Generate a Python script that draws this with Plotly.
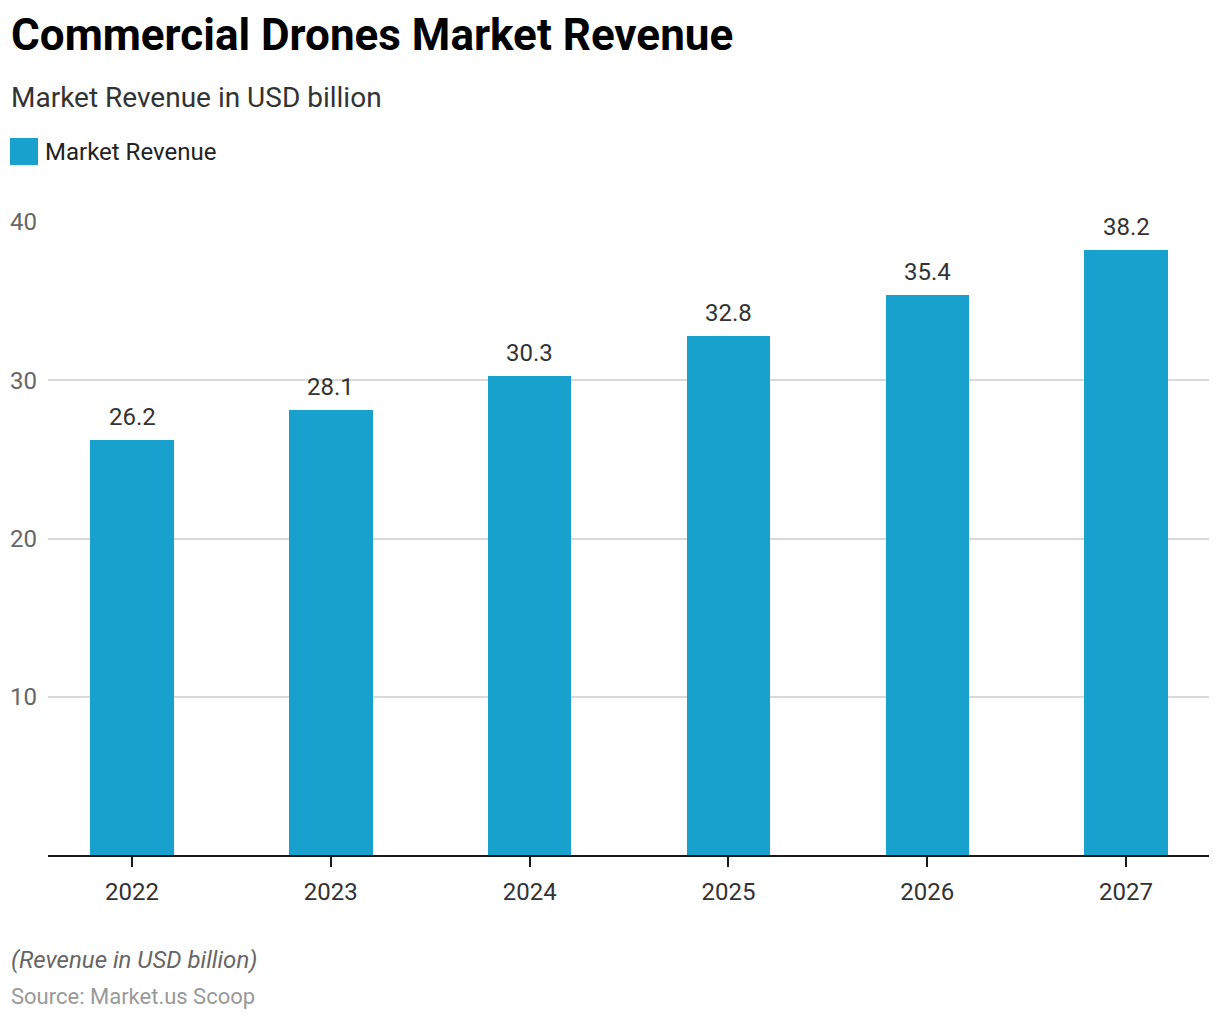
import plotly.graph_objects as go

years = ["2022", "2023", "2024", "2025", "2026", "2027"]
revenue = [26.2, 28.1, 30.3, 32.8, 35.4, 38.2]
y_ticks = [10, 20, 30, 40]

BAR = "#19A1CD"
FONT = "Roboto"
OFF = 8  # page body margin offset
W, H = 1212, 1012
L, T = 48 - OFF, 222 - OFF
R = W - (1209 - OFF)
B = H - (855 - OFF)

fig = go.Figure()
fig.add_trace(go.Bar(
    x=years, y=revenue, marker=dict(color=BAR, line=dict(width=0)),
    width=0.42, name="Market Revenue", showlegend=False, hoverinfo="x+y",
))

for i, v in enumerate(revenue):
    fig.add_annotation(
        x=i, y=v, xref="x", yref="y", text=f"{v:.1f}", showarrow=False,
        yanchor="middle", yshift=23,
        font=dict(family=FONT, size=24, color="#333333"),
    )

fig.update_layout(
    width=W, height=H,
    margin=dict(l=L, r=R, t=T, b=B, autoexpand=False),
    paper_bgcolor="white", plot_bgcolor="white",
    font=dict(family=FONT),
    bargap=0,
    xaxis=dict(
        type="category", range=[-0.4225, 5.417],
        showline=True, linecolor="#1a1a1a", linewidth=2,
        ticks="outside", ticklen=10, tickwidth=2, tickcolor="#1a1a1a",
        tickfont=dict(family=FONT, size=24, color="#333333"),
        ticklabelstandoff=4,
        showgrid=False, fixedrange=True,
    ),
    yaxis=dict(
        range=[0, 40], tickvals=y_ticks, ticktext=[str(t) for t in y_ticks],
        showgrid=True, gridcolor="#d9d9d9", gridwidth=1.5,
        zeroline=False, showline=False, ticks="",
        tickfont=dict(family=FONT, size=24, color="#666666"),
        ticklabelstandoff=10, fixedrange=True,
    ),
    showlegend=False,
)

pw, ph = W - L - R, H - T - B

def px_x(x):
    return (x - OFF - L) / pw

def px_y(y):
    return (H - B - (y - OFF)) / ph

texts = [
    ("<b>Commercial Drones Market Revenue</b>", 9, 35, 44, "#000000"),
    ("Market Revenue in USD billion", 9, 97, 28, "#333333"),
    ("Market Revenue", 43, 152, 24, "#222222"),
    ("<i>(Revenue in USD billion)</i>", 9, 960, 24, "#666666"),
    ("Source: Market.us Scoop", 9, 996, 22, "#999999"),
]
for text, x, y, size, color in texts:
    fig.add_annotation(
        text=text, x=px_x(x), y=px_y(y), xref="paper", yref="paper",
        showarrow=False, xanchor="left", yanchor="middle",
        font=dict(family=FONT, size=size, color=color),
    )

fig.add_shape(type="rect", xref="paper", yref="paper",
              x0=px_x(10), x1=px_x(38), y0=px_y(165), y1=px_y(138),
              fillcolor=BAR, line=dict(width=0))

fig.write_html("out.html")
